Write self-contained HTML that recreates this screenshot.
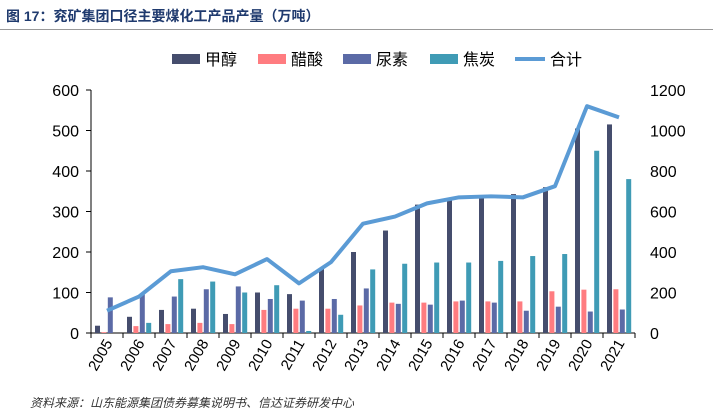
<!DOCTYPE html>
<html><head><meta charset="utf-8"><style>
body{margin:0;background:#fff;font-family:"Liberation Sans","Noto Sans CJK SC",sans-serif;}
#wrap{position:relative;width:713px;height:418px;overflow:hidden;}
.title{position:absolute;left:6px;top:6px;font-size:14px;font-weight:bold;color:#1f3a6e;}
.line{position:absolute;left:0;top:29px;width:713px;height:1px;background:#999;}
.foot{position:absolute;left:30px;top:394px;font-size:12px;font-style:italic;color:#333;}
</style></head><body>
<div id="wrap">
<div class="title">图 17：兖矿集团口径主要煤化工产品产量（万吨）</div>
<div class="line"></div>
<svg id="svg" width="713" height="418" style="position:absolute;left:0;top:0"></svg>
<div class="foot">资料来源：山东能源集团债券募集说明书、信达证券研发中心</div>
</div>
<script>
const years=["2005","2006","2007","2008","2009","2010","2011","2012","2013","2014","2015","2016","2017","2018","2019","2020","2021"];
const methanol=[18,40,57,60,47,100,96,160,200,253,317,330,335,343,360,505,515];
const acetic=[2,17,22,25,22,57,60,60,68,75,75,78,78,78,103,107,108];
const urea=[88,95,90,108,115,84,80,84,110,72,70,80,75,55,65,53,58];
const coke=[0,25,133,127,100,118,5,45,157,171,174,174,178,190,195,450,380];
const total=[110,180,305,325,290,365,245,350,540,575,640,670,675,670,725,1120,1065];
const leftTicks=[0,100,200,300,400,500,600];
const rightTicks=[0,200,400,600,800,1000,1200];
const NS="http://www.w3.org/2000/svg";
const svg=document.getElementById('svg');
const x0=91,x1=635,yT=90,yB=333;
const cw=(x1-x0)/years.length;
const yL=v=>yB-(v/600)*(yB-yT);
const yR=v=>yB-(v/1200)*(yB-yT);
function mk(t,a){const e=document.createElementNS(NS,t);for(const k in a)e.setAttribute(k,a[k]);svg.appendChild(e);return e;}
let e;
e=mk('line',{x1:x0,y1:yT,x2:x0,y2:yB,stroke:'#000','stroke-width':1});

e=mk('line',{x1:x0,y1:yB,x2:x1,y2:yB,stroke:'#000','stroke-width':1});

leftTicks.forEach(v=>{
 e=mk('line',{x1:x0-5,y1:yL(v),x2:x0,y2:yL(v),stroke:'#000'});
 
 e=mk('text',{x:x0-12,y:yL(v)+6,'text-anchor':'end','font-size':16,fill:'#000'});e.textContent=v;
 
});
rightTicks.forEach(v=>{
 e=mk('text',{x:650,y:yR(v)+6,'text-anchor':'start','font-size':16,fill:'#000'});e.textContent=v;
 
});
for(let i=0;i<=years.length;i++){
 e=mk('line',{x1:x0+i*cw,y1:yB,x2:x0+i*cw,y2:yB+5,stroke:'#000'});
 
}
const series=[[methanol,'#454d6d','methanol'],[acetic,'#ff7c80','acetic-acid'],[urea,'#5b6aa6','urea'],[coke,'#3f9bb5','coke']];
years.forEach((y,i)=>{
 series.forEach((s,j)=>{
  const v=s[0][i];
  e=mk('rect',{x:x0+i*cw+4+j*6.4,y:yL(v),width:5,height:yB-yL(v),fill:s[1]});
  
 });
 const cx=x0+i*cw+cw/2+6;
 e=mk('text',{x:cx,y:yB+10,'text-anchor':'end','font-size':15,transform:`rotate(-60 ${cx} ${yB+10})`});e.textContent=y;
 
});
const pts=total.map((v,i)=>(x0+i*cw+cw/2)+','+yR(v)).join(' ');
e=mk('polyline',{points:pts,fill:'none',stroke:'#5b9bd5','stroke-width':4,'stroke-linejoin':'round'});

const leg=[['甲醇','#454d6d',172],['醋酸','#ff7c80',258],['尿素','#5b6aa6',343],['焦炭','#3f9bb5',430]];
leg.forEach(l=>{
 e=mk('rect',{x:l[2],y:54,width:28,height:10,fill:l[1]});
 
 e=mk('text',{x:l[2]+33,y:65,'font-size':16});e.textContent=l[0];
 
});
e=mk('line',{x1:515,y1:59,x2:545,y2:59,stroke:'#5b9bd5','stroke-width':4});

e=mk('text',{x:550,y:65,'font-size':16});e.textContent='合计';

</script>
</body></html>
